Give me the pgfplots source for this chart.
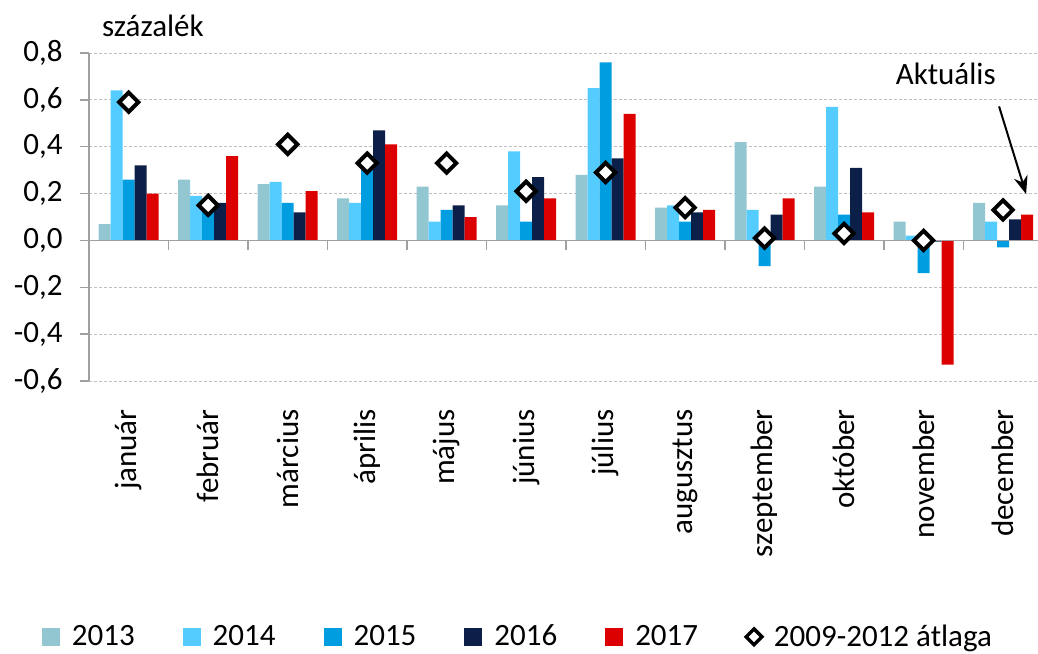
\documentclass[border=0pt]{standalone}
\usepackage{fontspec}
\setmainfont{Carlito}
\usepackage{pgfplots}
\pgfplotsset{compat=1.18}
\usepackage{pgfplotstable}
\usetikzlibrary{arrows.meta}

\definecolor{c13}{HTML}{92C6D0}
\definecolor{c14}{HTML}{55CCFF}
\definecolor{c15}{HTML}{009EE0}
\definecolor{c16}{HTML}{0C1F48}
\definecolor{c17}{HTML}{DD0000}
\definecolor{axgray}{HTML}{A0A0A0}
\definecolor{gridgray}{HTML}{BFBFBF}

\newcommand{\fs}{\fontsize{15.5}{18}\selectfont}

\pgfplotstableread{
m  y13   y14   y15    y16    y17    avg
0  0.07  0.64  0.26   0.32   0.20   0.59
1  0.26  0.19  0.15   0.16   0.36   0.15
2  0.24  0.25  0.16   0.12   0.21   0.41
3  0.18  0.16  0.30   0.47   0.41   0.33
4  0.23  0.08  0.13   0.15   0.10   0.33
5  0.15  0.38  0.08   0.27   0.18   0.21
6  0.28  0.65  0.76   0.35   0.54   0.29
7  0.14  0.15  0.08   0.12   0.13   0.14
8  0.42  0.13  -0.11  0.11   0.18   0.01
9  0.23  0.57  0.11   0.31   0.12   0.03
10 0.08  0.02  -0.14  -0.005 -0.53  0.00
11 0.16  0.08  -0.03  0.09   0.11   0.13
}\data

\pgfplotsset{
  mybar/.style={ybar, bar width=6pt, bar shift=#1, draw=none,
    legend image code/.code={\fill[##1, draw=none] (0pt,-4.5pt) rectangle (9pt,4.5pt);}},
}

\begin{document}
\begin{tikzpicture}
\begin{axis}[
  name=ax, scale only axis,
  width=474.5pt, height=164pt,
  xmin=-0.5, xmax=11.44, ymin=-0.6, ymax=0.8,
  axis lines*=left,
  x axis line style={draw=none},
  y axis line style={draw=axgray, line width=0.75pt},
  xtick={0,1,2,3,4,5,6,7,8,9,10,11},
  xticklabels={január,február,március,április,május,június,július,augusztus,szeptember,október,november,december},
  x tick style={draw=none},
  ytick={-0.6,-0.4,-0.2,0,0.2,0.4,0.6,0.8},
  yticklabels={{-0,6},{-0,4},{-0,2},{0,0},{0,2},{0,4},{0,6},{0,8}},
  y tick style={draw=axgray, line width=0.75pt},
  tick align=outside, major tick length=4.5pt,
  ymajorgrids,
  y grid style={gridgray, line width=0.5pt, dash pattern=on 1.5pt off 1pt},
  tick label style={font=\fs},
  yticklabel style={inner sep=0pt, xshift=-8.5pt},
  xticklabel style={inner sep=0pt, yshift=-9.5pt, rotate=90, anchor=east},
  legend columns=6,
  legend style={at={(0.453,-0.780)}, anchor=center, draw=none, fill=none,
    font=\fs, inner sep=0pt,
    /tikz/every odd column/.append style={column sep=4pt},
    /tikz/every even column/.append style={column sep=22pt}},
]
\addplot[mybar=-12pt, fill=c13] table[x=m,y=y13]{\data};
\addlegendentry{2013}
\addplot[mybar=-6pt, fill=c14] table[x=m,y=y14]{\data};
\addlegendentry{2014}
\addplot[mybar=0pt, fill=c15] table[x=m,y=y15]{\data};
\addlegendentry{2015}
\addplot[mybar=6pt, fill=c16] table[x=m,y=y16]{\data};
\addlegendentry{2016}
\addplot[mybar=12pt, fill=c17] table[x=m,y=y17]{\data};
\addlegendentry{2017}

\draw[axgray, line width=0.75pt] (axis cs:-0.5,0) -- (axis cs:11.44,0);
\pgfplotsinvokeforeach{0.5,1.5,2.5,3.5,4.5,5.5,6.5,7.5,8.5,9.5,10.5}{
  \draw[axgray, line width=0.75pt] (axis cs:#1,0) -- ([yshift=-5pt]axis cs:#1,0);
}

\addplot[only marks, mark=square*, mark size=3.4pt,
  mark options={rotate=45, fill=white, draw=black, line width=2pt},
  legend image code/.code={\draw[mark=square*, mark size=2.8pt,
     mark options={rotate=45, fill=white, draw=black, line width=1.7pt}]
     plot coordinates {(4.5pt,0pt)};}]
  table[x=m,y=avg]{\data};
\addlegendentry{2009-2012 átlaga}

\coordinate (akt) at (axis cs:9.647,0.665);
\coordinate (arA) at (axis cs:10.95,0.572);
\coordinate (arB) at (axis cs:11.29,0.198);
\end{axis}

\node[anchor=base west, inner sep=0pt, font=\fs] at ([xshift=6.35pt,yshift=8pt]ax.north west) {százalék};
\node[anchor=base west, inner sep=0pt, font=\fs] at (akt) {Aktuális};
\draw[black, line width=1pt, -{Stealth[length=9pt,width=7pt]}] (arA) -- (arB);

\pgfresetboundingbox
\path[use as bounding box] ([xshift=-44.5pt,yshift=-136pt]ax.south west) rectangle ([yshift=26.5pt]ax.north east);
\end{tikzpicture}
\end{document}
